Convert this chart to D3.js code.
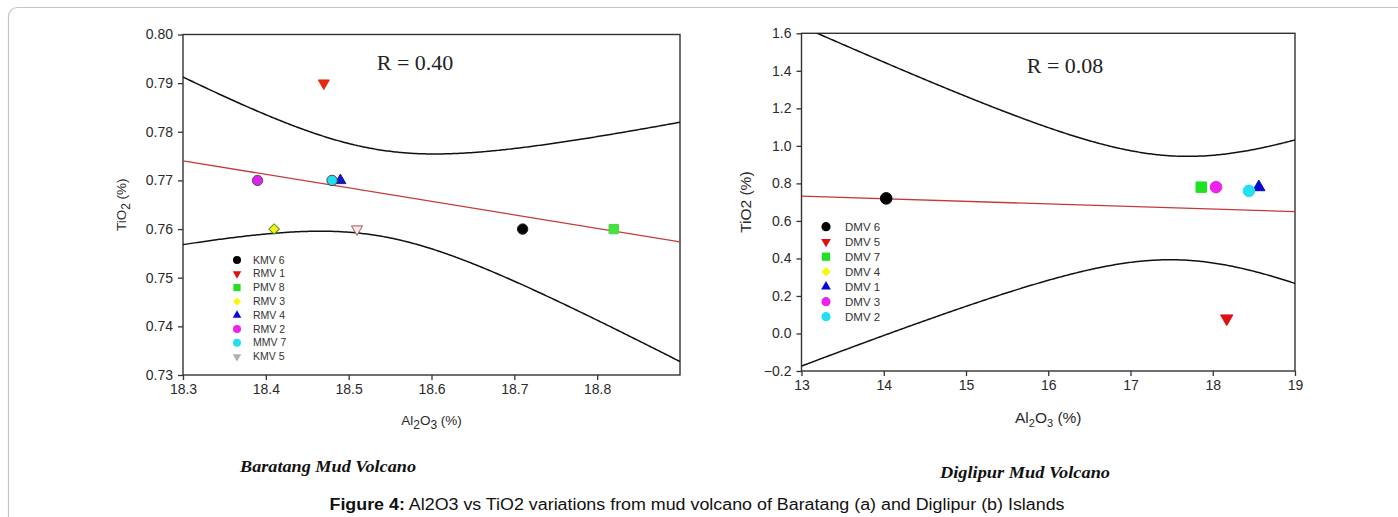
<!DOCTYPE html>
<html>
<head>
<meta charset="utf-8">
<script src="https://cdn.jsdelivr.net/npm/d3@7"></script>
<style>
  body { margin: 0; background: #fff; }
  svg { display: block; }
</style>
</head>
<body>
<svg id="fig" width="1398" height="517"></svg>
<script>
// ---- Baratang mud volcano samples ----
const baratangSamples = ["KMV 6", "RMV 1", "PMV 8", "RMV 3", "RMV 4", "RMV 2", "MMV 7", "KMV 5"];
const baratangAl2O3   = [18.71, 18.47, 18.82, 18.41, 18.49, 18.39, 18.48, 18.51];
const baratangTiO2    = [0.76, 0.79, 0.76, 0.76, 0.77, 0.77, 0.77, 0.76];
const baratangXTicks  = [18.3, 18.4, 18.5, 18.6, 18.7, 18.8];
const baratangYTicks  = [0.73, 0.74, 0.75, 0.76, 0.77, 0.78, 0.79, 0.80];

// ---- Diglipur mud volcano samples ----
const diglipurSamples = ["DMV 6", "DMV 5", "DMV 7", "DMV 4", "DMV 1", "DMV 3", "DMV 2"];
const diglipurAl2O3   = [14.03, 18.17, 17.86, 18.04, 18.56, 18.04, 18.44];
const diglipurTiO2    = [0.72, 0.08, 0.78, 0.78, 0.78, 0.78, 0.76];
const diglipurXTicks  = [13, 14, 15, 16, 17, 18, 19];
const diglipurYTicks  = [-0.2, 0.0, 0.2, 0.4, 0.6, 0.8, 1.0, 1.2, 1.4, 1.6];

// Student t critical values (two-sided 95%) by degrees of freedom
const tCritical = { 5: 2.5706, 6: 2.4469 };

// Marker shape for each legend position
const markerKinds = ["circle", "triDown", "square", "diamond", "triUp", "circle", "circle", "triDown"];

const baratangStyle = [
  { fill: "#000000", stroke: "#222" },
  { fill: "#e8280f", stroke: "#d83010" },
  { fill: "#3ee63e", stroke: "#5ccd3e" },
  { fill: "#f4f40a", stroke: "#5a8a2a" },
  { fill: "#1414c8", stroke: "#202080" },
  { fill: "#dd22ee", stroke: "#555" },
  { fill: "#22ddf0", stroke: "#445" },
  { fill: "#f6e6e6", stroke: "#a05a5a" }
];
const baratangLegendFill = ["#000000", "#e01010", "#22e022", "#f8f800", "#0808d0", "#ee22ee", "#22e0f0", "#b0b0b0"];

const diglipurStyle = [
  { fill: "#000000", stroke: "#000" },
  { fill: "#e01010", stroke: "#e01010" },
  { fill: "#22e022", stroke: "#22e022" },
  { fill: "#f8f800", stroke: "#f8f800" },
  { fill: "#0808d0", stroke: "#0808d0" },
  { fill: "#ee22ee", stroke: "#ee22ee" },
  { fill: "#22e0f0", stroke: "#22e0f0" }
];
const diglipurLegendFill = ["#000000", "#e01010", "#22e022", "#f8f800", "#0808d0", "#ee22ee", "#22e0f0"];

const svg = d3.select("#fig");

// Figure frame with rounded corner
svg.append("rect")
  .attr("x", 8.5).attr("y", 7.5)
  .attr("width", 1420).attr("height", 540)
  .attr("rx", 9)
  .attr("fill", "none")
  .attr("stroke", "#c4c4c4")
  .attr("stroke-width", 1.2);

// Symbol of a given kind that fits in a box of half-width r
function markerPath(kind, r) {
  switch (kind) {
    case "circle":  return { d: d3.symbol().type(d3.symbolCircle).size(Math.PI * r * r)(), rot: 0 };
    case "square":  return { d: d3.symbol().type(d3.symbolSquare).size(Math.pow(1.8 * r, 2))(), rot: 0 };
    case "diamond": return { d: d3.symbol().type(d3.symbolSquare).size(2 * r * r)(), rot: 45 };
    case "triUp":   return { d: d3.symbol().type(d3.symbolTriangle).size(1.5 * r * r * 1.3)(), rot: 0 };
    default:        return { d: d3.symbol().type(d3.symbolTriangle).size(1.5 * r * r * 1.3)(), rot: 180 };
  }
}

// Least-squares fit with 95% confidence bands
function fitWithBands(xs, ys, domain, steps) {
  const n = xs.length;
  const mx = d3.mean(xs), my = d3.mean(ys);
  let sxx = 0, sxy = 0, syy = 0;
  for (let i = 0; i < n; i++) {
    const dx = xs[i] - mx, dy = ys[i] - my;
    sxx += dx * dx; sxy += dx * dy; syy += dy * dy;
  }
  const b = sxy / sxx, a = my - b * mx;
  const sse = syy - sxy * sxy / sxx;
  const s = Math.sqrt(sse / (n - 2));
  const t = tCritical[n - 2];
  const grid = d3.range(steps + 1).map(i => domain[0] + (domain[1] - domain[0]) * i / steps);
  const half = x => t * s * Math.sqrt(1 / n + (x - mx) * (x - mx) / sxx);
  return {
    r: Math.abs(sxy / Math.sqrt(sxx * syy)),
    line: domain.map(x => [x, a + b * x]),
    upper: grid.map(x => [x, a + b * x + half(x)]),
    lower: grid.map(x => [x, a + b * x - half(x)])
  };
}

function drawPanel(p) {
  const g = svg.append("g");
  const x = d3.scaleLinear().domain(p.xDomain).range(p.xRange);
  const y = d3.scaleLinear().domain(p.yDomain).range(p.yRange);
  const [x0, x1] = p.xRange, [y0, y1] = p.yRange;

  const clipId = p.id + "-clip";
  svg.append("clipPath").attr("id", clipId)
    .append("rect").attr("x", x0).attr("y", y1).attr("width", x1 - x0).attr("height", y0 - y1);

  // axes
  const xAxis = d3.axisBottom(x).tickValues(p.xTicks).tickFormat(d3.format(p.xFormat))
    .tickSizeInner(5).tickSizeOuter(0).tickPadding(4);
  const yAxis = d3.axisLeft(y).tickValues(p.yTicks).tickFormat(d3.format(p.yFormat))
    .tickSizeInner(5).tickSizeOuter(0).tickPadding(5);

  const gx = g.append("g").attr("transform", `translate(0,${y0})`).call(xAxis);
  const gy = g.append("g").attr("transform", `translate(${x0},0)`).call(yAxis);
  [gx, gy].forEach(ax => {
    ax.select(".domain").remove();
    ax.selectAll(".tick line").attr("stroke", "#333").attr("stroke-width", 1.3);
    ax.selectAll(".tick text")
      .attr("fill", "#2a2a2a")
      .style("font-family", "'Liberation Sans', Arial, sans-serif")
      .style("font-size", p.tickFont + "px");
  });

  // plot frame
  g.append("rect")
    .attr("x", x0).attr("y", y1).attr("width", x1 - x0).attr("height", y0 - y1)
    .attr("fill", "none").attr("stroke", "#333").attr("stroke-width", 1.4);

  // regression line and confidence bands
  const fit = fitWithBands(p.xs, p.ys, p.xDomain, 300);
  const lineGen = d3.line().x(d => x(d[0])).y(d => y(d[1]));
  const plot = g.append("g").attr("clip-path", `url(#${clipId})`);
  plot.append("path").attr("d", lineGen(fit.upper))
    .attr("fill", "none").attr("stroke", "#111").attr("stroke-width", 1.5);
  plot.append("path").attr("d", lineGen(fit.lower))
    .attr("fill", "none").attr("stroke", "#111").attr("stroke-width", 1.5);
  plot.append("path").attr("d", lineGen(fit.line))
    .attr("fill", "none").attr("stroke", "#c43a3a").attr("stroke-width", 1.3);

  // R label
  g.append("text")
    .attr("x", p.rPos[0]).attr("y", p.rPos[1])
    .attr("text-anchor", "middle")
    .style("font-family", "'Liberation Serif', 'Times New Roman', serif")
    .style("font-size", "22px")
    .attr("fill", "#222")
    .text("R = " + d3.format(".2f")(fit.r));

  // sample markers
  plot.selectAll("path.pt")
    .data(p.xs.map((v, i) => ({ x: v, y: p.ys[i], i, m: markerPath(markerKinds[i], p.markerR) })))
    .join("path")
    .attr("class", "pt")
    .attr("d", d => d.m.d)
    .attr("transform", d => `translate(${x(d.x)},${y(d.y)}) rotate(${d.m.rot})`)
    .attr("fill", d => p.style[d.i].fill)
    .attr("stroke", d => p.style[d.i].stroke)
    .attr("stroke-width", 1);

  // legend
  const lg = g.append("g");
  p.samples.forEach((name, i) => {
    const ly = p.legend.y + i * p.legend.step;
    const m = markerPath(markerKinds[i], p.legend.r);
    lg.append("path")
      .attr("d", m.d)
      .attr("transform", `translate(${p.legend.x},${ly}) rotate(${m.rot})`)
      .attr("fill", p.legendFill[i]);
    lg.append("text")
      .attr("x", p.legend.textX).attr("y", ly)
      .attr("dy", "0.35em")
      .style("font-family", "'Liberation Sans', Arial, sans-serif")
      .style("font-size", p.legend.font + "px")
      .attr("fill", "#333")
      .text(name);
  });

  // axis titles
  const xt = g.append("text")
    .attr("x", (x0 + x1) / 2).attr("y", p.xTitleY)
    .attr("text-anchor", "middle")
    .style("font-family", "'Liberation Sans', Arial, sans-serif")
    .style("font-size", p.titleFont + "px")
    .attr("fill", "#2a2a2a");
  xt.append("tspan").text("Al");
  xt.append("tspan").attr("dy", p.subShift).style("font-size", p.subFont + "px").text("2");
  xt.append("tspan").attr("dy", -p.subShift).text("O");
  xt.append("tspan").attr("dy", p.subShift).style("font-size", p.subFont + "px").text("3");
  xt.append("tspan").attr("dy", -p.subShift).text(" (%)");

  const yt = g.append("text")
    .attr("transform", `translate(${p.yTitleX},${(y0 + y1) / 2}) rotate(-90)`)
    .attr("text-anchor", "middle")
    .style("font-family", "'Liberation Sans', Arial, sans-serif")
    .style("font-size", p.titleFont + "px")
    .attr("fill", "#2a2a2a");
  if (p.ySubscript) {
    yt.append("tspan").text("TiO");
    yt.append("tspan").attr("dy", p.subShift).style("font-size", p.subFont + "px").text("2");
    yt.append("tspan").attr("dy", -p.subShift).text(" (%)");
  } else {
    yt.text("TiO2 (%)");
  }

  // panel caption
  svg.append("text")
    .attr("x", p.caption.x).attr("y", p.caption.y)
    .attr("textLength", p.caption.width)
    .attr("lengthAdjust", "spacingAndGlyphs")
    .style("font-family", "'Liberation Serif', 'Times New Roman', serif")
    .style("font-weight", "bold").style("font-style", "italic")
    .style("font-size", "17px")
    .attr("fill", "#111")
    .text(p.caption.text);
}

drawPanel({
  id: "baratang",
  xs: baratangAl2O3, ys: baratangTiO2, samples: baratangSamples,
  style: baratangStyle, legendFill: baratangLegendFill,
  xDomain: [18.3, 18.9], yDomain: [0.73, 0.80],
  xRange: [183, 680], yRange: [375, 34.5],
  xTicks: baratangXTicks, yTicks: baratangYTicks, xFormat: ".1f", yFormat: ".2f",
  tickFont: 14, titleFont: 13.5, subFont: 12, subShift: 4,
  xTitleY: 425, yTitleX: 126, ySubscript: true,
  rPos: [415, 70], markerR: 5.2,
  legend: { x: 237, textX: 253, y: 260, step: 13.8, r: 4, font: 10.5 },
  caption: { x: 240, y: 472, width: 176, text: "Baratang Mud Volcano" }
});

drawPanel({
  id: "diglipur",
  xs: diglipurAl2O3, ys: diglipurTiO2, samples: diglipurSamples,
  style: diglipurStyle, legendFill: diglipurLegendFill,
  xDomain: [13, 19], yDomain: [-0.2, 1.6],
  xRange: [801.5, 1295], yRange: [371, 33.3],
  xTicks: diglipurXTicks, yTicks: diglipurYTicks, xFormat: "d", yFormat: ".1f",
  tickFont: 14, titleFont: 15.5, subFont: 11, subShift: 4,
  xTitleY: 423, yTitleX: 751, ySubscript: false,
  rPos: [1065, 73], markerR: 5.8,
  legend: { x: 826, textX: 845, y: 226.7, step: 15, r: 4.6, font: 11.5 },
  caption: { x: 940, y: 478, width: 170, text: "Diglipur Mud Volcano" }
});

// figure caption
const cap = svg.append("text")
  .attr("x", 697).attr("y", 510)
  .attr("text-anchor", "middle")
  .attr("textLength", 735)
  .attr("lengthAdjust", "spacingAndGlyphs")
  .style("font-family", "'Liberation Sans', Arial, sans-serif")
  .style("font-size", "16px")
  .attr("fill", "#111");
cap.append("tspan").style("font-weight", "bold").text("Figure 4:");
cap.append("tspan").text(" Al2O3 vs TiO2 variations from mud volcano of Baratang (a) and Diglipur (b) Islands");
</script>
</body>
</html>
